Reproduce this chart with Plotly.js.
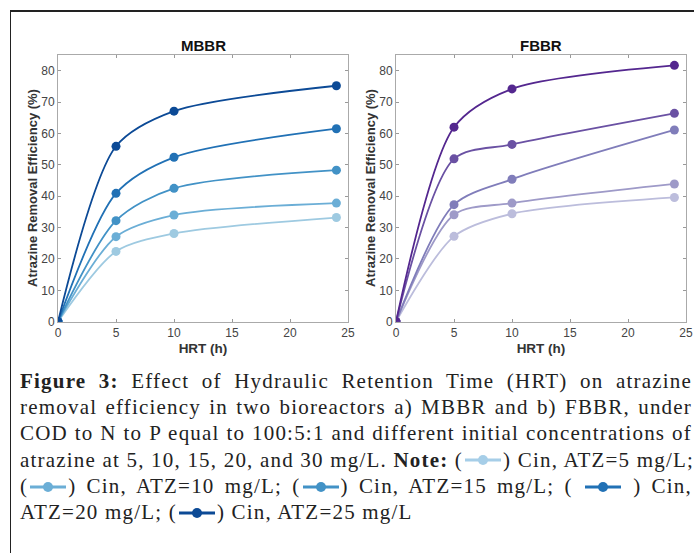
<!DOCTYPE html>
<html>
<head>
<meta charset="utf-8">
<script src="https://cdn.plot.ly/plotly-3.0.1.min.js"></script>
<style>
  html, body { margin:0; padding:0; background:#fff; }
  body { width:694px; height:553px; position:relative; overflow:hidden; }
  #frame { position:absolute; left:10px; top:10px; width:700px; height:560px;
           border-top:2px solid #222; border-left:1.5px solid #222; box-sizing:border-box; }
  #chart { position:absolute; left:0; top:0; width:694px; height:360px; }
  #caption { position:absolute; left:20px; top:368px; width:672px;
             font-family:"Liberation Serif","DejaVu Serif",serif; font-size:21px; letter-spacing:1.2px; color:#222; line-height:26.2px; }
  #caption .ln { display:block; text-align:justify; text-align-last:justify; white-space:nowrap; }
  #caption .last { text-align-last:left; }
  #caption b { font-weight:bold; }
  .g { display:inline-block; vertical-align:middle; margin-top:-3px; }
</style>
</head>
<body>
<div id="frame"></div>
<div id="chart"></div>
<div id="caption"></div>
<script>
// ---- data ----
const hrt = [0, 5, 10, 24];
const seriesNames = ['Cin, ATZ=5 mg/L', 'Cin, ATZ=10 mg/L', 'Cin, ATZ=15 mg/L', 'Cin, ATZ=20 mg/L', 'Cin, ATZ=25 mg/L'];
const mbbr5  = [0, 22.4, 28.1, 33.2];
const mbbr10 = [0, 27.1, 34.0, 37.8];
const mbbr15 = [0, 32.2, 42.5, 48.3];
const mbbr20 = [0, 40.9, 52.4, 61.5];
const mbbr25 = [0, 55.9, 67.1, 75.2];
const fbbr5  = [0, 27.2, 34.4, 39.6];
const fbbr10 = [0, 34.1, 37.8, 43.9];
const fbbr15 = [0, 37.3, 45.4, 61.1];
const fbbr20 = [0, 51.9, 56.5, 66.4];
const fbbr25 = [0, 62.0, 74.2, 81.7];
const xTicks = [0, 5, 10, 15, 20, 25];
const yTicks = [0, 10, 20, 30, 40, 50, 60, 70, 80];

const blues   = ['#9ecae1', '#6baed6', '#4292c6', '#2171b5', '#0c4a96'];
const purples = ['#bcbddc', '#9e9ac8', '#807dba', '#6a51a3', '#54278f'];

const mb = [mbbr5, mbbr10, mbbr15, mbbr20, mbbr25];
const fb = [fbbr5, fbbr10, fbbr15, fbbr20, fbbr25];

const traces = [];
mb.forEach((ys, i) => traces.push({
  x: hrt, y: ys, xaxis: 'x', yaxis: 'y', name: seriesNames[i], type: 'scatter', mode: 'lines+markers',
  line: {color: blues[i], width: 1.8, shape: 'spline', smoothing: 0.8},
  marker: {color: blues[i], size: 9}, showlegend: false
}));
fb.forEach((ys, i) => traces.push({
  x: hrt, y: ys, xaxis: 'x2', yaxis: 'y2', name: seriesNames[i], type: 'scatter', mode: 'lines+markers',
  line: {color: purples[i], width: 1.8, shape: 'spline', smoothing: 0.8},
  marker: {color: purples[i], size: 9}, showlegend: false
}));

const W = 694, H = 360;
const FONT = 'Liberation Sans, Arial, sans-serif';
const xAx = (d) => ({
  domain: d, range: [0, 25], tickvals: xTicks, ticks: 'inside', ticklen: 3, tickcolor: '#999',
  showline: true, linecolor: '#aaa', linewidth: 1, mirror: 'ticks', showgrid: false, zeroline: false,
  tickfont: {family: FONT, size: 12, color: '#444'},
  title: {text: '<b>HRT (h)</b>', font: {family: FONT, size: 13.5, color: '#333'}, standoff: 4}
});
const yAx = (anchor) => ({
  domain: [1 - 321.7 / H, 1 - 55 / H], range: [0, 85], tickvals: yTicks, ticks: 'inside', ticklen: 3, tickcolor: '#999',
  showline: true, linecolor: '#aaa', linewidth: 1, mirror: 'ticks', showgrid: false, zeroline: false, anchor: anchor,
  tickfont: {family: FONT, size: 12, color: '#444'}
});

const yTitle = (px) => ({
  text: '<b>Atrazine Removal Efficiency (%)</b>', x: px / W, y: 1 - 188 / H, xref: 'paper', yref: 'paper',
  showarrow: false, textangle: -90, xanchor: 'center', yanchor: 'middle',
  font: {family: FONT, size: 13, color: '#333'}
});

const layout = {
  width: W, height: H, margin: {l: 0, r: 0, t: 0, b: 0},
  paper_bgcolor: 'rgba(0,0,0,0)', plot_bgcolor: '#fff',
  xaxis: Object.assign(xAx([58 / W, 348 / W]), {anchor: 'y'}),
  yaxis: yAx('x'),
  xaxis2: Object.assign(xAx([396 / W, 686 / W]), {anchor: 'y2'}),
  yaxis2: yAx('x2'),
  annotations: [
    {text: '<b>MBBR</b>', x: 203 / W, y: 1 - 45 / H, xref: 'paper', yref: 'paper', showarrow: false,
     xanchor: 'center', yanchor: 'middle', font: {family: FONT, size: 15, color: '#111'}},
    {text: '<b>FBBR</b>', x: 541 / W, y: 1 - 45 / H, xref: 'paper', yref: 'paper', showarrow: false,
     xanchor: 'center', yanchor: 'middle', font: {family: FONT, size: 15, color: '#111'}},
    yTitle(32),
    yTitle(370)
  ]
};

Plotly.newPlot('chart', traces, layout, {staticPlot: true, displayModeBar: false});

// ---- caption ----
function glyph(c) {
  return '<svg class="g" width="40" height="12" viewBox="0 0 40 12"><line x1="2" y1="6" x2="38" y2="6" stroke="' + c +
         '" stroke-width="3"/><circle cx="20" cy="6" r="5" fill="' + c + '"/></svg>';
}
const capLines = [
  '<b>Figure 3:</b> Effect of Hydraulic Retention Time (HRT) on atrazine',
  'removal efficiency in two bioreactors a) MBBR and b) FBBR, under',
  'COD to N to P equal to 100:5:1 and different initial concentrations of',
  'atrazine at 5, 10, 15, 20, and 30 mg/L. <b>Note:</b> (' + glyph('#a6cee8') + ') ' + seriesNames[0] + ';',
  '(' + glyph('#6baed6') + ') ' + seriesNames[1] + '; (' + glyph('#4292c6') + ') ' + seriesNames[2] + '; ( ' + glyph('#2171b5') + ' ) Cin,',
  'ATZ=20 mg/L; (' + glyph('#0c4a96') + ') ' + seriesNames[4]
];
document.getElementById('caption').innerHTML = capLines.map((t, i) =>
  '<span class="ln' + (i === capLines.length - 1 ? ' last' : '') + '">' + t + '</span>').join('');
</script>
</body>
</html>
